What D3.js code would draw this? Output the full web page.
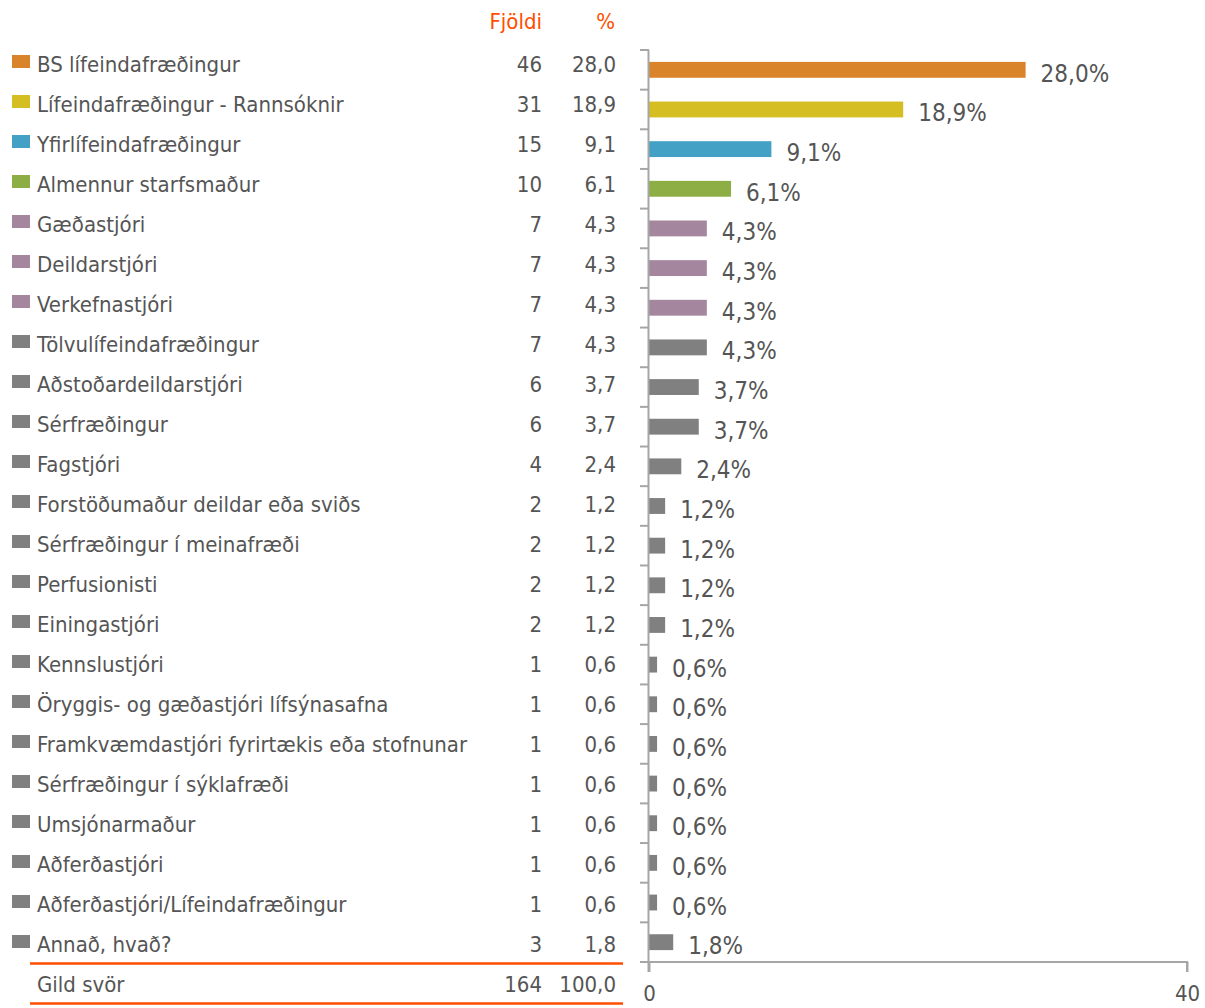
<!DOCTYPE html>
<html>
<head>
<meta charset="utf-8">
<script src="https://cdn.jsdelivr.net/npm/d3@7"></script>
<style>
  body { margin: 0; background: #fff; }
  text { font-family: "DejaVu Sans Condensed", "DejaVu Sans", sans-serif; fill: #555555; }
</style>
</head>
<body>
<svg id="chart" width="1205" height="1008"></svg>
<script>
var categories = ["BS lífeindafræðingur", "Lífeindafræðingur - Rannsóknir", "Yfirlífeindafræðingur",
  "Almennur starfsmaður", "Gæðastjóri", "Deildarstjóri", "Verkefnastjóri", "Tölvulífeindafræðingur",
  "Aðstoðardeildarstjóri", "Sérfræðingur", "Fagstjóri", "Forstöðumaður deildar eða sviðs",
  "Sérfræðingur í meinafræði", "Perfusionisti", "Einingastjóri", "Kennslustjóri",
  "Öryggis- og gæðastjóri lífsýnasafna", "Framkvæmdastjóri fyrirtækis eða stofnunar",
  "Sérfræðingur í sýklafræði", "Umsjónarmaður", "Aðferðastjóri", "Aðferðastjóri/Lífeindafræðingur",
  "Annað, hvað?"];
var counts = [46, 31, 15, 10, 7, 7, 7, 7, 6, 6, 4, 2, 2, 2, 2, 1, 1, 1, 1, 1, 1, 1, 3];
var percents = [28.0, 18.9, 9.1, 6.1, 4.3, 4.3, 4.3, 4.3, 3.7, 3.7, 2.4, 1.2, 1.2, 1.2, 1.2,
  0.6, 0.6, 0.6, 0.6, 0.6, 0.6, 0.6, 1.8];
var colors = ["#D9832A", "#D4BE22", "#43A1C6", "#8DAE45", "#A5869F", "#A5869F", "#A5869F",
  "#808080", "#808080", "#808080", "#808080", "#808080", "#808080", "#808080", "#808080",
  "#808080", "#808080", "#808080", "#808080", "#808080", "#808080", "#808080", "#808080"];
var total = {label: "Gild svör", count: 164, percent: 100.0};
var xTicks = [0, 40];

var svg = d3.select("#chart");
var fmt = function(v) { return d3.format(".1f")(v).replace(".", ","); };

// table rows (legend + counts)
var rowY = d3.scaleBand().domain(d3.range(categories.length + 1)).range([44, 1004]);

var table = svg.append("g").attr("class", "table");

table.append("text").attr("x", 542).attr("y", 29).attr("text-anchor", "end")
  .style("fill", "#FF4E00").style("font-size", "22px").text("Fjöldi");
table.append("text").attr("x", 615).attr("y", 29).attr("text-anchor", "end")
  .style("fill", "#FF4E00").style("font-size", "22px").text("%");

var rows = table.selectAll("g.row").data(categories).enter().append("g")
  .attr("class", "row")
  .attr("transform", function(d, i) { return "translate(0," + (rowY(i) + rowY.bandwidth() / 2) + ")"; });

rows.append("rect").attr("x", 12).attr("y", -9).attr("width", 18).attr("height", 13)
  .attr("fill", function(d, i) { return colors[i]; });
rows.append("text").attr("x", 37).attr("y", 8).style("font-size", "22px").text(function(d) { return d; });
rows.append("text").attr("x", 542).attr("y", 8).attr("text-anchor", "end").style("font-size", "22px")
  .text(function(d, i) { return counts[i]; });
rows.append("text").attr("x", 616).attr("y", 8).attr("text-anchor", "end").style("font-size", "22px")
  .text(function(d, i) { return fmt(percents[i]); });

var ty = rowY(categories.length) + rowY.bandwidth() / 2;
table.append("text").attr("x", 37).attr("y", ty + 8).style("font-size", "22px").text(total.label);
table.append("text").attr("x", 542).attr("y", ty + 8).attr("text-anchor", "end").style("font-size", "22px").text(total.count);
table.append("text").attr("x", 616).attr("y", ty + 8).attr("text-anchor", "end").style("font-size", "22px").text(fmt(total.percent));

[rowY(categories.length), rowY(categories.length) + rowY.bandwidth()].forEach(function(y) {
  table.append("line").attr("x1", 30).attr("x2", 623).attr("y1", y - 0.5).attr("y2", y - 0.5)
    .attr("stroke", "#FF4E00").attr("stroke-width", 2.5);
});

// bar chart
var x = d3.scaleLinear().domain([0, 40]).range([649, 1187]);
var y = d3.scaleBand().domain(d3.range(categories.length)).range([50, 962]).paddingInner(0.6).paddingOuter(0.3);

var g = svg.append("g").attr("class", "bars");

g.selectAll("rect").data(percents).enter().append("rect")
  .attr("x", x(0))
  .attr("y", function(d, i) { return y(i); })
  .attr("width", function(d) { return x(d) - x(0); })
  .attr("height", y.bandwidth())
  .attr("fill", function(d, i) { return colors[i]; });

g.selectAll("text.val").data(percents).enter().append("text")
  .attr("class", "val")
  .attr("x", function(d) { return x(d) + 15; })
  .attr("y", function(d, i) { return y(i) + y.bandwidth() / 2 + 12; })
  .style("font-size", "24px")
  .text(function(d) { return fmt(d) + "%"; });

// y axis with ticks between bars
var yAxis = g.append("g").attr("class", "yaxis");
yAxis.append("line").attr("x1", 648.5).attr("x2", 648.5).attr("y1", 50).attr("y2", 972)
  .attr("stroke", "#A6A6A6").attr("stroke-width", 2);
var bounds = d3.range(categories.length + 1).map(function(i) { return 50 + i * y.step(); });
yAxis.selectAll("line.tick").data(bounds).enter().append("line")
  .attr("class", "tick").attr("x1", 640).attr("x2", 649)
  .attr("y1", function(d) { return d; }).attr("y2", function(d) { return d; })
  .attr("stroke", "#A6A6A6").attr("stroke-width", 2);

// x axis
var xAxis = g.append("g").attr("class", "xaxis")
  .attr("transform", "translate(0,962)")
  .call(d3.axisBottom(x).tickValues(xTicks).tickSize(10).tickPadding(13));
xAxis.select(".domain").attr("stroke", "#A6A6A6").attr("stroke-width", 2)
  .attr("d", "M" + x(0) + ",0H" + x(40) + "V10");
xAxis.selectAll(".tick line").attr("stroke", "#A6A6A6").attr("stroke-width", 2);
xAxis.selectAll(".tick text").style("font-size", "22px")
  .style("font-family", "'DejaVu Sans Condensed', 'DejaVu Sans', sans-serif").attr("fill", "#555555");
</script>
</body>
</html>
